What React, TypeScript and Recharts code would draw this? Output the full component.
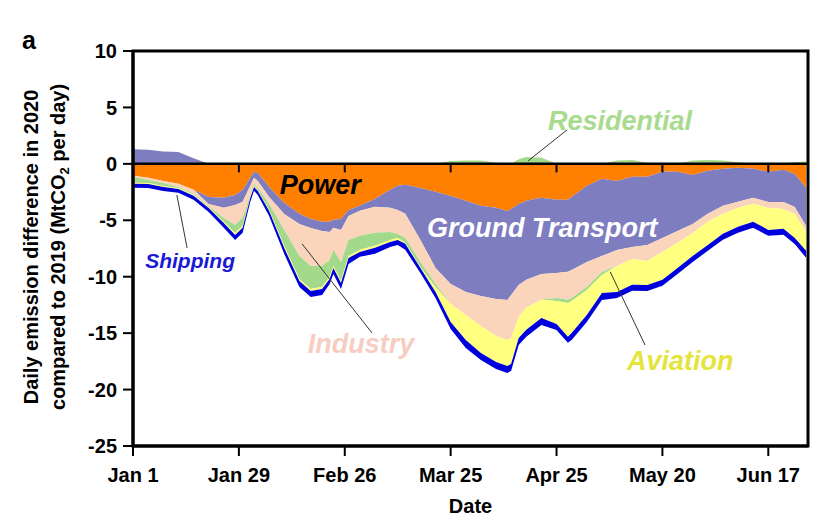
import React from "react";
import {
  AreaChart,
  Area,
  XAxis,
  YAxis,
  ReferenceArea,
  ReferenceLine,
  ReferenceDot,
} from "recharts";

const FONT = '"Liberation Sans", Arial, Helvetica, sans-serif';

// day of 2020 (0 = Jan 1)
const days = [
  0, 4, 8, 12, 16, 20, 24, 27, 29, 31, 32, 33, 36, 40, 44, 47, 50, 52, 53, 55,
  57, 60, 64, 68, 70, 72, 76, 80, 84, 88, 92, 96, 99, 100, 102, 104, 108, 112,
  115, 116, 120, 124, 128, 132, 136, 140, 144, 148, 152, 156, 160, 164, 168,
  172, 175, 178,
];

// MtCO2 per day, 2020 minus 2019
const power = [
  -1.06, -1.24, -1.51, -1.77, -2.3, -2.93, -3.01, -2.75, -2.3, -1.24, -0.71,
  -0.8, -2.04, -3.46, -4.43, -4.88, -5.14, -5.14, -4.96, -4.88, -4.08, -3.72,
  -3.1, -2.3, -1.95, -1.86, -2.13, -2.48, -2.84, -3.28, -3.72, -3.9, -4.17,
  -3.99, -3.55, -3.28, -3.01, -3.19, -3.19, -2.93, -1.95, -1.33, -1.51, -1.15,
  -1.15, -0.71, -0.71, -0.98, -0.62, -0.44, -0.35, -0.44, -0.71, -0.53, -0.89,
  -2.13,
];
const groundTransport = [
  1.3, 1.25, 1.1, 1.05, 0.5, -0.62, -0.89, -0.89, -1.06, -0.71, -0.53, -0.71,
  -0.89, -0.98, -0.89, -0.8, -0.8, -0.89, -0.71, -0.98, -0.53, -0.44, -0.71,
  -1.6, -2.13, -2.57, -4.61, -6.74, -7.8, -8.07, -7.98, -8.07, -7.89, -7.62,
  -7.18, -7.0, -6.74, -6.47, -6.38, -6.47, -6.74, -6.83, -6.12, -6.21, -6.03,
  -5.85, -5.23, -4.34, -3.81, -3.28, -3.01, -2.57, -2.66, -2.84, -2.93, -3.37,
];
const industry = [
  -0.09, -0.18, -0.18, -0.27, -0.35, -0.18, -0.89, -1.77, -1.42, -0.8, -0.53,
  -0.62, -0.62, -1.42, -2.84, -3.37, -3.1, -2.48, -1.95, -2.84, -2.13, -2.22,
  -2.3, -2.13, -2.13, -2.13, -1.95, -1.42, -1.77, -2.04, -2.66, -3.28, -3.55,
  -3.81, -2.84, -2.48, -2.3, -2.22, -2.48, -2.48, -2.22, -1.42, -1.42, -1.06,
  -1.42, -1.24, -1.06, -0.8, -0.71, -0.71, -0.53, -0.53, -0.53, -0.62, -0.62,
  -0.53,
];
const residential = [
  -0.53, -0.27, -0.27, -0.09, -0.09, -0.09, -0.35, -0.71, -0.71, -0.18, -0.18,
  -0.18, -0.53, -1.42, -2.04, -2.04, -1.86, -1.51, -1.42, -1.68, -1.42, -1.24,
  -1.15, -0.71, -0.35, -0.44, -0.44, -0.27, 0.25, 0.3, 0.3, 0.1, 0, 0, 0.4,
  0.6, 0.55, -0.27, -0.27, -0.27, -0.27, -0.27, 0.3, 0.35, 0.1, 0, 0, 0.3,
  0.35, 0.3, 0.15, 0, 0, 0.05, 0.15, 0.2,
];
const aviation = [
  -0.09, -0.09, -0.09, -0.09, -0.09, -0.09, -0.09, -0.18, -0.18, -0.09, -0.09,
  -0.09, -0.09, -0.18, -0.18, -0.18, -0.18, -0.18, -0.18, -0.18, -0.18, -0.18,
  -0.18, -0.18, -0.18, -0.09, -0.09, -0.44, -1.6, -2.22, -2.39, -2.3, -2.3,
  -2.3, -1.86, -1.95, -1.6, -2.04, -3.01, -2.84, -2.22, -1.6, -2.3, -2.3,
  -2.13, -2.48, -2.22, -2.04, -2.04, -1.77, -1.68, -1.6, -1.95, -1.77, -2.13,
  -1.68,
];
const shipping = [
  -0.35, -0.35, -0.35, -0.35, -0.35, -0.35, -0.44, -0.44, -0.44, -0.35, -0.35,
  -0.35, -0.44, -0.53, -0.53, -0.53, -0.53, -0.44, -0.53, -0.53, -0.53, -0.44,
  -0.53, -0.44, -0.44, -0.53, -0.44, -0.53, -0.62, -0.71, -0.62, -0.62, -0.62,
  -0.62, -0.62, -0.62, -0.62, -0.53, -0.53, -0.62, -0.62, -0.62, -0.53, -0.53,
  -0.53, -0.53, -0.53, -0.53, -0.53, -0.53, -0.53, -0.53, -0.53, -0.53, -0.53,
  -0.62,
];

const tickDays = [0, 28, 56, 84, 112, 140, 168];
const tickLabels = ["Jan 1", "Jan 29", "Feb 26", "Mar 25", "Apr 25", "May 20", "Jun 17"];
const yTicks = [10, 5, 0, -5, -10, -15, -20, -25];

// split signed sectors so increases stack above zero and decreases below
const rows = days.map((day, i) => ({
  day,
  power: power[i],
  transportNeg: Math.min(groundTransport[i], 0),
  industry: industry[i],
  residentialNeg: Math.min(residential[i], 0),
  aviation: aviation[i],
  shipping: shipping[i],
  transportPos: Math.max(groundTransport[i], 0),
  residentialPos: Math.max(residential[i], 0),
}));

const notes = [
  { text: "Power", day: 49.5, value: -1.86, color: "#000000", size: 27 },
  { text: "Ground Transport", day: 108.2, value: -5.67, color: "#ffffff", size: 27 },
  { text: "Residential", day: 128.8, value: 3.81, color: "#a9db8e", size: 27 },
  { text: "Industry", day: 60.3, value: -15.87, color: "#f7cdc2", size: 27 },
  { text: "Aviation", day: 144.7, value: -17.46, color: "#e4e43a", size: 27 },
  { text: "Shipping", day: 15.1, value: -8.6, color: "#1a1ad6", size: 21 },
];

const leaders = [
  [{ x: 11.6, y: -2.75 }, { x: 14.3, y: -7.45 }],
  [{ x: 44.7, y: -7.09 }, { x: 63.2, y: -14.98 }],
  [{ x: 126.2, y: -9.57 }, { x: 135.4, y: -16.05 }],
  [{ x: 114.8, y: 3.01 }, { x: 104.5, y: 0.27 }],
];

const tickStyle = { fill: "#000", fontSize: 20, fontWeight: "bold", fontFamily: FONT };

const App = () => {
  return (
    <div style={{ position: "relative", width: 823, height: 516, fontFamily: FONT }}>
      <AreaChart
        width={823}
        height={516}
        data={rows}
        margin={{ top: 43, right: 23, left: 65, bottom: 38 }}
      >
        <XAxis
          dataKey="day"
          type="number"
          domain={[0, 178.5]}
          ticks={tickDays}
          interval={0}
          tickFormatter={(v) => tickLabels[tickDays.indexOf(v)]}
          height={40}
          tickSize={10}
          tickMargin={12}
          tick={tickStyle}
          axisLine={{ stroke: "#000", strokeWidth: 3 }}
          tickLine={{ stroke: "#000", strokeWidth: 2 }}
        />
        <YAxis
          type="number"
          domain={[-25, 10]}
          ticks={yTicks}
          interval={0}
          width={60}
          tickSize={10}
          tickMargin={6}
          tick={tickStyle}
          axisLine={{ stroke: "#000", strokeWidth: 3 }}
          tickLine={{ stroke: "#000", strokeWidth: 2 }}
        />
        <Area dataKey="power" stackId="neg" type="linear" fill="#ff7f00" fillOpacity={1} stroke="none" isAnimationActive={false} />
        <Area dataKey="transportNeg" stackId="neg" type="linear" fill="#7d7dc0" fillOpacity={1} stroke="none" isAnimationActive={false} />
        <Area dataKey="industry" stackId="neg" type="linear" fill="#fad5bc" fillOpacity={1} stroke="none" isAnimationActive={false} />
        <Area dataKey="residentialNeg" stackId="neg" type="linear" fill="#a3d98a" fillOpacity={1} stroke="none" isAnimationActive={false} />
        <Area dataKey="aviation" stackId="neg" type="linear" fill="#ffff80" fillOpacity={1} stroke="none" isAnimationActive={false} />
        <Area dataKey="shipping" stackId="neg" type="linear" fill="#0000dc" fillOpacity={1} stroke="none" isAnimationActive={false} />
        <Area dataKey="transportPos" stackId="pos" type="linear" fill="#7d7dc0" fillOpacity={1} stroke="none" isAnimationActive={false} />
        <Area dataKey="residentialPos" stackId="pos" type="linear" fill="#a3d98a" fillOpacity={1} stroke="none" isAnimationActive={false} />

        <ReferenceLine y={0} stroke="#000" strokeWidth={2.5} />
        {tickDays.slice(1).map((d) => (
          <ReferenceLine
            key={`zt-${d}`}
            segment={[{ x: d, y: 0 }, { x: d, y: -0.75 }]}
            stroke="#000"
            strokeWidth={2}
          />
        ))}
        {leaders.map((seg, i) => (
          <ReferenceLine key={`ld-${i}`} segment={seg} stroke="#333" strokeWidth={1} />
        ))}
        {notes.map((n) => (
          <ReferenceDot
            key={n.text}
            x={n.day}
            y={n.value}
            r={1}
            fill="none"
            stroke="none"
            label={{
              value: n.text,
              position: "center",
              fill: n.color,
              fontSize: n.size,
              fontWeight: "bold",
              fontStyle: "italic",
              fontFamily: FONT,
            }}
          />
        ))}
        <ReferenceArea
          x1={0}
          x2={178.5}
          y1={-25}
          y2={10}
          fill="none"
          stroke="#000"
          strokeWidth={3}
        />
      </AreaChart>
      <svg
        width={823}
        height={516}
        style={{ position: "absolute", left: 0, top: 0, pointerEvents: "none" }}
        fontFamily={FONT}
        fontWeight="bold"
      >
        <text x={14} y={41} fontSize={25}>a</text>
        <text transform="translate(29.5, 239) rotate(-90)" textAnchor="middle" fontSize={20}>
          Daily emission difference in 2020
        </text>
        <text transform="translate(56.5, 239) rotate(-90)" textAnchor="middle" fontSize={20}>
          compared to 2019 (MtCO
          <tspan fontSize={13} dy={4}>2</tspan>
          <tspan dy={-4}> per day)</tspan>
        </text>
        <text x={462.5} y={505} textAnchor="middle" fontSize={20}>Date</text>
      </svg>
    </div>
  );
};

export default App;
